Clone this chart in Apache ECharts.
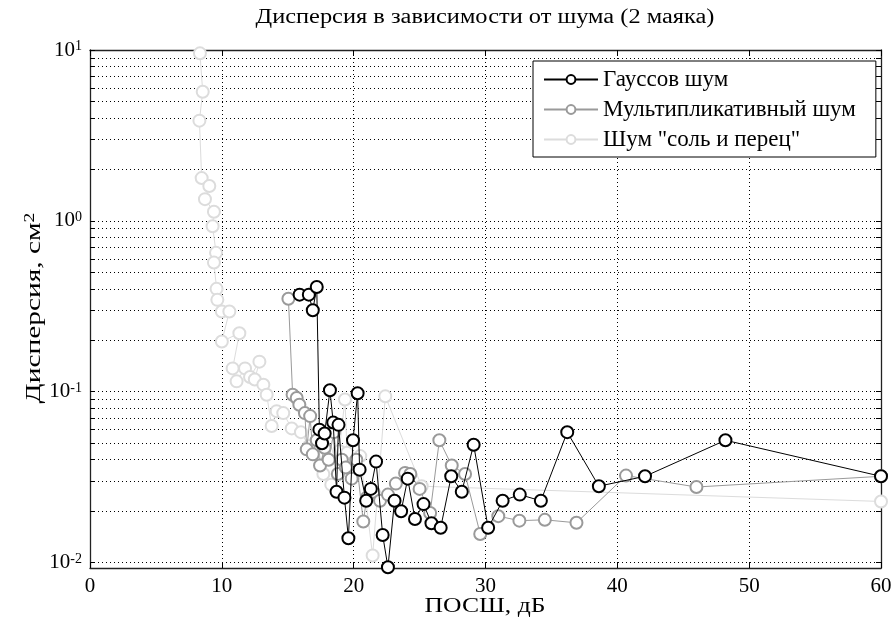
<!DOCTYPE html>
<html><head><meta charset="utf-8">
<script src="https://cdn.jsdelivr.net/npm/echarts@6/dist/echarts.min.js"></script>
<style>html,body{margin:0;padding:0;background:#fff}#c{width:893px;height:621px}</style>
</head><body><div id="c"></div>
<script>
const seriesNames = ['Гауссов шум', 'Мультипликативный шум', 'Шум "соль и перец"'];
const titleText = 'Дисперсия в зависимости от шума (2 маяка)';
const xName = 'ПОСШ, дБ';
const yName = 'Дисперсия, см{s|2}';

const gaussX = [15.9,16.6,16.9,17.2,17.4,17.6,17.8,18.2,18.45,18.7,18.85,19.3,19.6,19.95,20.3,20.45,20.95,21.3,21.7,22.2,22.6,23.1,23.6,24.1,24.65,25.3,25.9,26.6,27.4,28.2,29.1,30.2,31.3,32.6,34.2,36.2,38.6,42.1,48.2,60];
const gaussY = [0.37,0.37,0.30,0.41,0.060,0.050,0.057,0.102,0.066,0.026,0.064,0.024,0.0139,0.052,0.098,0.035,0.023,0.027,0.039,0.0145,0.0094,0.023,0.020,0.031,0.018,0.022,0.017,0.016,0.032,0.026,0.049,0.016,0.023,0.025,0.023,0.058,0.028,0.032,0.052,0.032];

const multX = [15.05,15.37,15.68,15.88,16.3,16.44,16.7,16.9,17.2,17.45,17.8,18.1,18.5,18.8,19.1,19.4,19.85,20.2,20.73,21.0,21.5,22.0,22.6,23.2,23.9,24.3,25.0,25.8,26.5,27.44,28.45,29.6,30.97,32.57,34.5,36.9,40.66,46.0,60];
const multY = [0.35,0.096,0.092,0.084,0.075,0.046,0.072,0.043,0.052,0.037,0.047,0.040,0.058,0.033,0.040,0.036,0.031,0.040,0.0174,0.024,0.026,0.023,0.025,0.029,0.0335,0.033,0.027,0.0195,0.052,0.037,0.033,0.0147,0.0187,0.0176,0.0178,0.0171,0.0323,0.0277,0.032];

const saltX = [8.34,8.55,8.3,8.47,9.05,8.72,9.4,9.3,9.56,9.4,9.6,9.66,10.0,10.57,10.0,11.33,10.82,11.12,11.76,12.14,12.85,12.5,13.15,13.4,13.78,14.16,14.66,15.3,16.0,16.6,17.2,17.7,18.3,18.9,19.34,19.5,20.0,20.5,21.44,22.4,25.16,60];
const saltY = [9.56,5.7,3.86,1.78,1.6,1.34,1.13,0.93,0.65,0.57,0.40,0.345,0.295,0.295,0.197,0.22,0.137,0.115,0.137,0.122,0.15,0.118,0.11,0.096,0.063,0.077,0.075,0.061,0.058,0.048,0.052,0.033,0.0286,0.045,0.09,0.044,0.032,0.042,0.011,0.094,0.028,0.0228];

const xTicks = [0,10,20,30,40,50,60];
const yDecades = [-2,-1,0,1];
const yMin = 0.0093, yMax = 10;
const xMin = 0, xMax = 60;

const FONT = 'Liberation Serif';
const lg = Math.log10;
const minorVals = [];
for (let n = -3; n <= 1; n++) {
  for (let k = 1; k <= 9; k++) {
    const v = k * Math.pow(10, n);
    if (v >= yMin && v <= yMax * 1.0001) minorVals.push(lg(v));
  }
}
const pairs = (xs, ys) => xs.map((x, i) => [x, lg(ys[i])]);

const gridLine = {show: true, lineStyle: {color: '#000', width: 1, type: [1, 3]}};
const axisLine = {show: true, onZero: false, lineStyle: {color: '#222', width: 1.3}};

const chart = echarts.init(document.getElementById('c'));
chart.setOption({
  animation: false,
  backgroundColor: '#fff',
  grid: {left: 90, right: 12, top: 50, bottom: 53, containLabel: false, outerBoundsMode: 'none'},
  graphic: [
    {type: 'text', x: 485, y: 18, scaleX: 1.22, silent: true,
     style: {text: titleText, fontFamily: FONT, fontSize: 20, fill: '#000', align: 'center', verticalAlign: 'middle'}},
    {type: 'text', x: 485, y: 606, scaleX: 1.22, silent: true,
     style: {text: xName, fontFamily: FONT, fontSize: 21, fill: '#000', align: 'center', verticalAlign: 'middle'}},
    {type: 'text', x: 34, y: 308, rotation: Math.PI / 2, scaleX: 1.4, silent: true,
     style: {text: yName, fontFamily: FONT, fontSize: 21, fill: '#000', align: 'center', verticalAlign: 'middle',
       rich: {s: {fontFamily: FONT, fontSize: 14, fill: '#000', verticalAlign: 'top'}}}}
  ],
  legend: {
    orient: 'vertical', left: 533, top: 61,
    padding: [7, 20, 6, 10], itemGap: 7, itemWidth: 54, itemHeight: 11,
    backgroundColor: '#fff', borderColor: '#000', borderWidth: 1,
    textStyle: {fontFamily: FONT, fontSize: 23, color: '#000'},
    data: seriesNames
  },
  xAxis: [{
    type: 'value', min: xMin, max: xMax, interval: 10,
    axisLine: axisLine,
    axisTick: {show: true, inside: true, length: 6, lineStyle: {color: '#000'}, customValues: xTicks},
    axisLabel: {fontFamily: FONT, fontSize: 21, color: '#000', margin: 8, customValues: xTicks},
    splitLine: gridLine
  }, {
    type: 'value', min: xMin, max: xMax, interval: 10, position: 'top',
    axisLine: axisLine,
    axisTick: {show: true, inside: true, length: 6, lineStyle: {color: '#000'}},
    axisLabel: {show: false}, splitLine: {show: false}
  }],
  yAxis: [{
    type: 'value', min: lg(yMin), max: lg(yMax),
    axisLine: axisLine,
    axisTick: {show: true, inside: true, length: 5, lineStyle: {color: '#000'}, customValues: minorVals},
    axisLabel: {
      customValues: yDecades, margin: 8,
      formatter: v => '{b|10}{s|' + Math.round(v) + '}',
      rich: {
        b: {fontFamily: FONT, fontSize: 21, color: '#000'},
        s: {fontFamily: FONT, fontSize: 14, color: '#000', verticalAlign: 'top'}
      }
    },
    splitLine: gridLine
  }, {
    type: 'value', min: lg(yMin), max: lg(yMax), position: 'right',
    axisLine: axisLine,
    axisTick: {show: true, inside: true, length: 5, lineStyle: {color: '#000'}, customValues: minorVals},
    axisLabel: {show: false}, splitLine: {show: false}
  }],
  series: [
    {name: seriesNames[0], type: 'line', data: pairs(gaussX, gaussY), z: 5,
     symbol: 'emptyCircle', symbolSize: 12, color: '#000',
     lineStyle: {color: '#000', width: 1}, itemStyle: {color: '#000', borderColor: '#000', borderWidth: 1}},
    {name: seriesNames[1], type: 'line', data: pairs(multX, multY), z: 4,
     symbol: 'emptyCircle', symbolSize: 12, color: '#9a9a9a',
     lineStyle: {color: '#9a9a9a', width: 1}, itemStyle: {color: '#9a9a9a', borderColor: '#9a9a9a', borderWidth: 1}},
    {name: seriesNames[2], type: 'line', data: pairs(saltX, saltY), z: 3,
     symbol: 'emptyCircle', symbolSize: 12, color: '#dcdcdc',
     lineStyle: {color: '#dcdcdc', width: 1}, itemStyle: {color: '#dcdcdc', borderColor: '#dcdcdc', borderWidth: 1}}
  ]
});
</script></body></html>
